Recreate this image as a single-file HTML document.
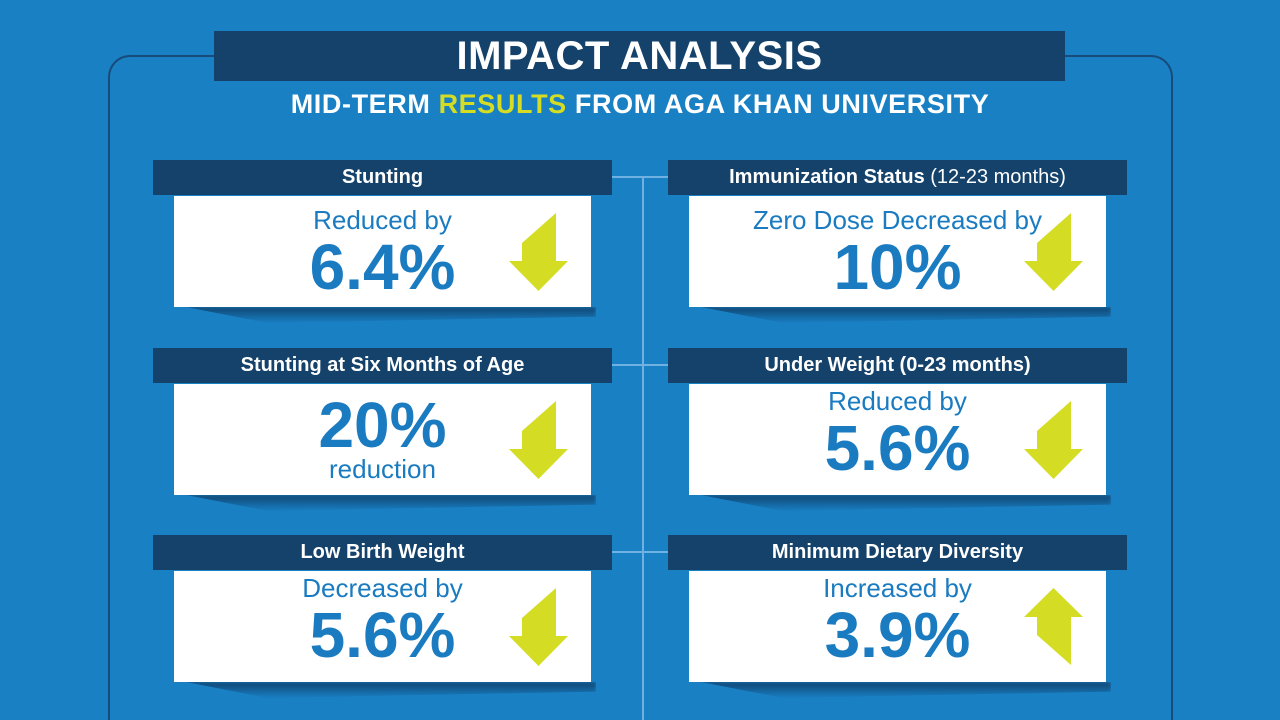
<!DOCTYPE html>
<html><head><meta charset="utf-8"><style>
*{margin:0;padding:0;box-sizing:border-box}
html,body{width:1280px;height:720px;overflow:hidden}
body{background:#1a80c4;position:relative;font-family:"Liberation Sans",sans-serif}
.a{position:absolute}
.frame{left:108px;top:55px;width:1065px;height:665px;border:2px solid #174b7a;border-bottom:none;border-radius:22px 22px 0 0}
.vline{left:642px;top:177px;width:2px;height:543px;background:#6fb2e2}
.hl{height:2px;background:#6fb2e2;width:56px}
.title{left:214px;top:31px;width:851px;height:50px;background:#15426a;color:#fff;font-weight:bold;font-size:40px;text-align:center;line-height:50px;letter-spacing:0.5px}
.sub{left:0;width:1280px;top:89px;text-align:center;color:#fff;font-weight:bold;font-size:27px;letter-spacing:0.6px}
.sub span{color:#d4dc23}
.hd{width:459px;height:35px;background:#15426a;color:#fff;font-weight:bold;font-size:20px;text-align:center;line-height:35px}
.hd span{font-weight:normal}
.bx{width:417px;height:111px;background:#fff;color:#1a7bc0}
.sm{position:absolute;left:0;width:417px;text-align:center;font-size:26px;line-height:1.149}
.bg{position:absolute;left:0;width:417px;text-align:center;font-size:64px;font-weight:bold;line-height:1.149}
.sh{width:410px;height:16px;background:linear-gradient(to bottom,rgba(12,45,80,.7),rgba(12,45,80,0));clip-path:polygon(0 0,100% 0,100% 60%,20% 100%);filter:blur(1.5px)}
svg{position:absolute;left:0;top:0}
</style></head><body>
<div class="a frame"></div>
<div class="a vline"></div>
<div class="a title">IMPACT ANALYSIS</div>
<div class="a sub">MID-TERM <span>RESULTS</span> FROM AGA KHAN UNIVERSITY</div>

<div class="a hl" style="left:612px;top:176px"></div>
<div class="a hl" style="left:612px;top:364px"></div>
<div class="a hl" style="left:612px;top:551px"></div>

<div class="a sh" style="left:186px;top:307px"></div>
<div class="a sh" style="left:701px;top:307px"></div>
<div class="a sh" style="left:186px;top:495px"></div>
<div class="a sh" style="left:701px;top:495px"></div>
<div class="a sh" style="left:186px;top:682px"></div>
<div class="a sh" style="left:701px;top:682px"></div>

<div class="a hd" style="left:153px;top:160px">Stunting</div>
<div class="a bx" style="left:174px;top:196px">
<div class="sm" style="top:10px">Reduced by</div>
<div class="bg" style="top:35px">6.4%</div>
<svg width="417" height="111"><polygon fill="#d4dc23" points="348,47 382,17 382,65 394,65 364.5,95 335,65 348,65"/></svg>
</div>
<div class="a hd" style="left:668px;top:160px">Immunization Status <span>(12-23 months)</span></div>
<div class="a bx" style="left:689px;top:196px">
<div class="sm" style="top:10px">Zero Dose Decreased by</div>
<div class="bg" style="top:35px">10%</div>
<svg width="417" height="111"><polygon fill="#d4dc23" points="348,47 382,17 382,65 394,65 364.5,95 335,65 348,65"/></svg>
</div>

<div class="a hd" style="left:153px;top:348px">Stunting at Six Months of Age</div>
<div class="a bx" style="left:174px;top:384px">
<div class="bg" style="top:5px">20%</div>
<div class="sm" style="top:71px">reduction</div>
<svg width="417" height="111"><polygon fill="#d4dc23" points="348,47 382,17 382,65 394,65 364.5,95 335,65 348,65"/></svg>
</div>
<div class="a hd" style="left:668px;top:348px">Under Weight (0-23 months)</div>
<div class="a bx" style="left:689px;top:384px">
<div class="sm" style="top:3px">Reduced by</div>
<div class="bg" style="top:28px">5.6%</div>
<svg width="417" height="111"><polygon fill="#d4dc23" points="348,47 382,17 382,65 394,65 364.5,95 335,65 348,65"/></svg>
</div>

<div class="a hd" style="left:153px;top:535px">Low Birth Weight</div>
<div class="a bx" style="left:174px;top:571px">
<div class="sm" style="top:3px">Decreased by</div>
<div class="bg" style="top:28px">5.6%</div>
<svg width="417" height="111"><polygon fill="#d4dc23" points="348,47 382,17 382,65 394,65 364.5,95 335,65 348,65"/></svg>
</div>
<div class="a hd" style="left:668px;top:535px">Minimum Dietary Diversity</div>
<div class="a bx" style="left:689px;top:571px">
<div class="sm" style="top:3px">Increased by</div>
<div class="bg" style="top:28px">3.9%</div>
<svg width="417" height="111"><polygon fill="#d4dc23" points="364.5,17 394,46 382,46 382,94 348,64 348,46 335,46"/></svg>
</div>
</body></html>
